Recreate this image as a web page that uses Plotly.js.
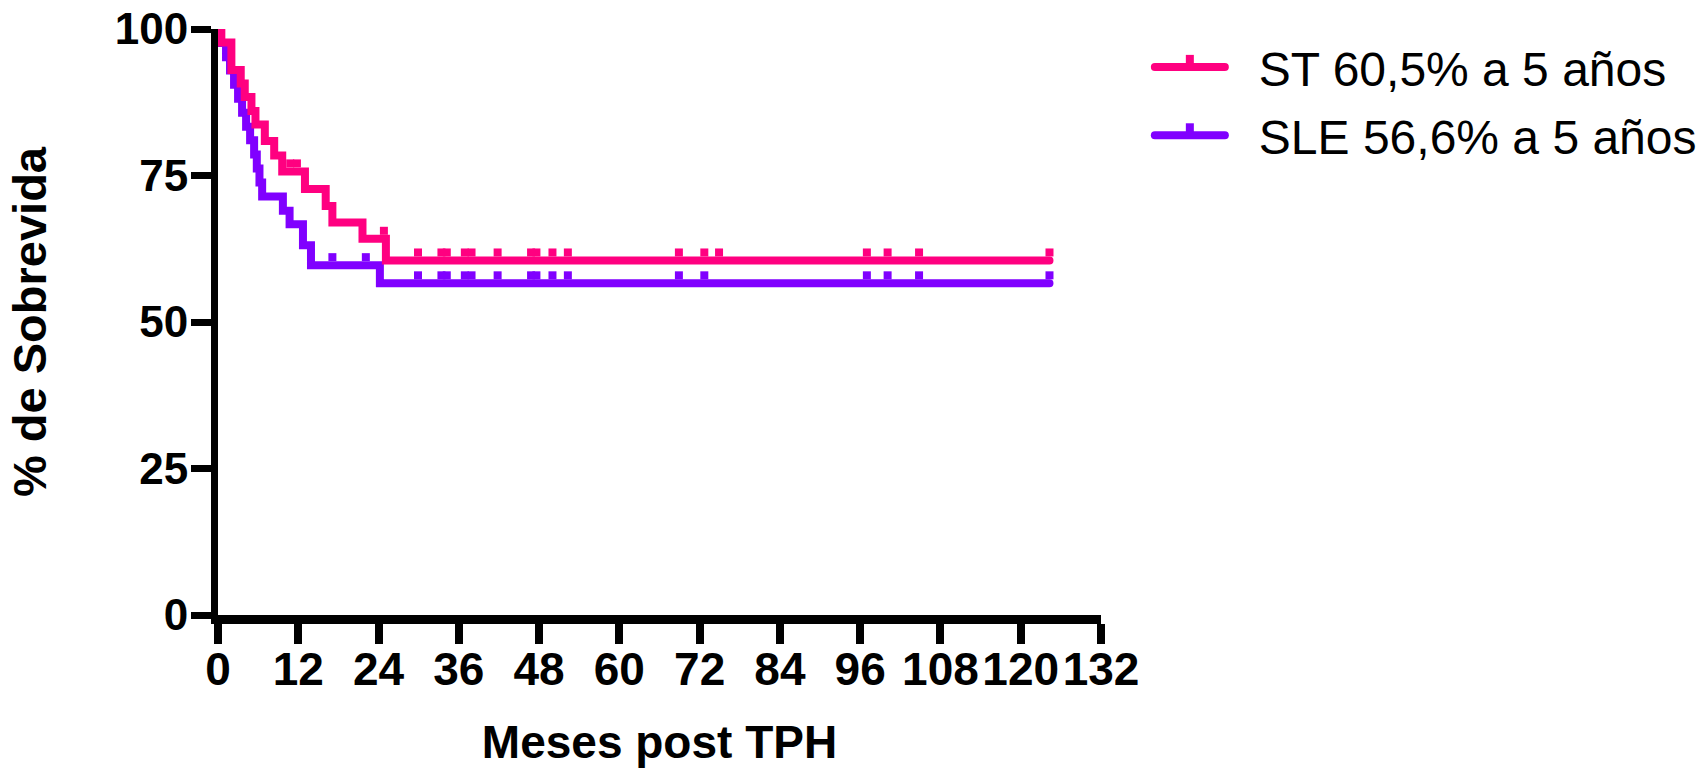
<!DOCTYPE html>
<html>
<head>
<meta charset="utf-8">
<script src="https://cdn.plot.ly/plotly-3.0.1.min.js"></script>
<style>
html,body{margin:0;padding:0;background:#fff;}
#chart{width:1706px;height:768px;}
.scatterlayer .js-line{stroke-linecap:round;}
</style>
</head>
<body>
<div id="chart"></div>
<script>
// ---- data ----
const seriesNames = ['ST 60,5% a 5 años', 'SLE 56,6% a 5 años'];

const stMonths   = [0, 0.5, 2.0, 3.4, 4.0, 5.0, 5.6, 7.0, 8.4, 9.6, 13.0, 16.1, 17.1, 21.6, 25.1, 124.3];
const stSurvival = [100, 97.7, 93.0, 90.7, 88.4, 86.0, 83.7, 80.9, 78.4, 75.7, 72.7, 69.8, 67.0, 64.2, 60.5, 60.5];
const stCensored = [10.8, 11.8, 24.8, 29.9, 33.4, 34.2, 36.9, 37.9, 41.8, 46.8, 47.6, 50.0, 52.3, 68.9, 72.7, 74.9, 97.0, 100.1, 104.8, 124.3];

const sleMonths   = [0, 0.4, 1.2, 1.8, 2.4, 3.0, 3.6, 4.2, 4.8, 5.4, 5.8, 6.2, 6.6, 9.7, 10.7, 12.7, 13.9, 24.2, 124.3];
const sleSurvival = [100, 97.6, 95.2, 92.9, 90.5, 88.1, 85.7, 83.3, 81.0, 78.6, 76.2, 73.8, 71.4, 69.0, 66.7, 63.1, 59.7, 56.6, 56.6];
const sleCensored = [17.1, 22.1, 29.9, 33.4, 34.2, 36.9, 37.9, 41.8, 46.8, 47.6, 50.0, 52.3, 68.9, 72.7, 97.0, 100.1, 104.8, 124.3];

const xTickVals = [0, 12, 24, 36, 48, 60, 72, 84, 96, 108, 120, 132];
const yTickVals = [0, 25, 50, 75, 100];

// ---- styling ----
const colST = '#FF0080';
const colSLE = '#8000FF';
const W = 1706, H = 768;
const margin = {l: 218, r: 605, t: 29, b: 153};
const lineW = 8;
const tickSize = 8;
const plotH = H - margin.t - margin.b;
// censor tick sits on top of the line: offset (in % units) of half the line width + half the tick
const censorOffset = (lineW / 2 + tickSize / 2) * 100 / plotH;

function stepValue(months, surv, t) {
  let v = surv[0];
  for (let i = 0; i < months.length; i++) { if (months[i] <= t) v = surv[i]; }
  return v;
}

function curveTrace(name, group, rank, months, surv, color) {
  return {
    x: months, y: surv, name: name, legendgroup: group, legendrank: rank,
    type: 'scatter', mode: 'lines',
    line: {shape: 'hv', color: color, width: lineW},
    hoverinfo: 'skip'
  };
}
function censorTrace(group, months, surv, cens, color) {
  return {
    x: cens, y: cens.map(t => stepValue(months, surv, t) + censorOffset),
    legendgroup: group, type: 'scatter', mode: 'markers', showlegend: false,
    marker: {symbol: 'square', size: tickSize, color: color, line: {width: 0}},
    hoverinfo: 'skip'
  };
}

const traces = [
  curveTrace(seriesNames[1], 'sle', 2, sleMonths, sleSurvival, colSLE),
  censorTrace('sle', sleMonths, sleSurvival, sleCensored, colSLE),
  curveTrace(seriesNames[0], 'st', 1, stMonths, stSurvival, colST),
  censorTrace('st', stMonths, stSurvival, stCensored, colST)
];

const axisCommon = {
  showline: true, linecolor: '#000',
  ticks: 'outside', ticklen: 20, tickcolor: '#000',
  showgrid: false, zeroline: false, fixedrange: true, layer: 'below traces'
};

const layout = {
  width: W, height: H,
  margin: margin,
  paper_bgcolor: '#fff', plot_bgcolor: '#fff',
  showlegend: true,
  legend: {
    x: 0.674, xref: 'container', xanchor: 'left',
    y: 0.962, yref: 'container', yanchor: 'top',
    font: {family: 'Liberation Sans, Arial, sans-serif', size: 48, color: '#000'},
    itemwidth: 99, traceorder: 'grouped', tracegroupgap: 3,
    bgcolor: 'rgba(0,0,0,0)'
  },
  xaxis: Object.assign({}, axisCommon, {
    range: [0, 132], tickmode: 'array', tickvals: xTickVals, ticktext: xTickVals.map(String),
    linewidth: 9, tickwidth: 8, ticklabelstandoff: -14,
    tickfont: {family: 'Liberation Sans Narrow, Arial Narrow, Liberation Sans, sans-serif', size: 46, weight: 'bold', color: '#000'},
    title: {text: 'Meses post TPH', font: {family: 'Liberation Sans, Arial, sans-serif', size: 46, weight: 'bold', color: '#000'}, standoff: 44}
  }),
  yaxis: Object.assign({}, axisCommon, {
    range: [0, 100], tickmode: 'array', tickvals: yTickVals, ticktext: yTickVals.map(String),
    linewidth: 7, tickwidth: 7, ticklabelstandoff: -6,
    tickfont: {family: 'Liberation Sans, Arial, sans-serif', size: 44, weight: 'bold', color: '#000'},
    title: {text: '% de Sobrevida', font: {family: 'Liberation Sans, Arial, sans-serif', size: 47, weight: 'bold', color: '#000'}, standoff: 56}
  })
};

Plotly.newPlot('chart', traces, layout, {staticPlot: true, displayModeBar: false}).then(function (gd) {
  // Prism-style legend sample: shorter thick line with a censor tick on top
  const legendLineLen = 70;
  gd.querySelectorAll('.legend .traces').forEach(function (item) {
    const path = item.querySelector('.legendlines path');
    if (!path) return;
    const color = path.style.stroke;
    path.setAttribute('d', 'M5,0h' + legendLineLen);
    path.style.strokeWidth = lineW + 'px';
    path.style.strokeLinecap = 'round';
    const tick = document.createElementNS('http://www.w3.org/2000/svg', 'rect');
    tick.setAttribute('x', 5 + legendLineLen / 2 - tickSize / 2);
    tick.setAttribute('y', -lineW / 2 - tickSize);
    tick.setAttribute('width', tickSize);
    tick.setAttribute('height', tickSize + 1);
    tick.style.fill = color;
    path.parentNode.appendChild(tick);
  });
});
</script>
</body>
</html>
